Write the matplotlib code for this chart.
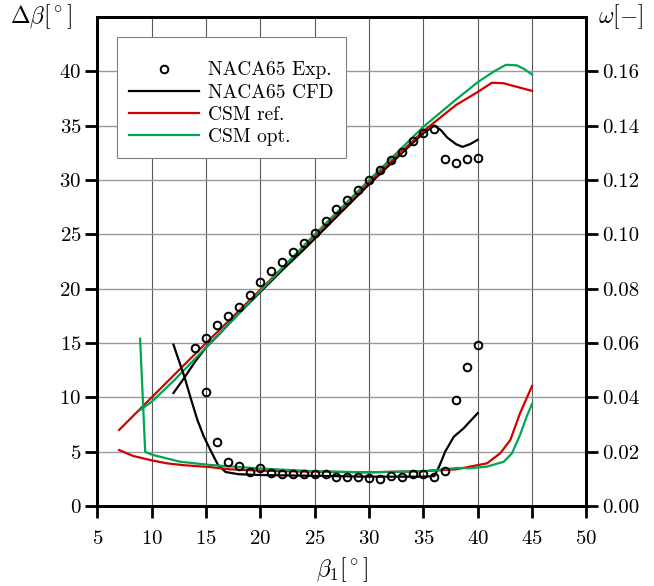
import numpy as np
import matplotlib
matplotlib.use('Agg')
import matplotlib.pyplot as plt
from matplotlib.ticker import FormatStrFormatter

plt.rcParams['font.family'] = 'serif'
plt.rcParams['font.serif'] = ['cmr10']
plt.rcParams['mathtext.fontset'] = 'cm'
plt.rcParams['axes.formatter.use_mathtext'] = True

# ── Datos experimentales NACA65 ───────────────────────────────────────────────
exp_db_beta = [14, 15, 16, 17, 18, 19, 20, 21, 22, 23, 24, 25, 26, 27,
               28, 29, 30, 31, 32, 33, 34, 35, 36, 37, 38, 39, 40]
exp_db = [14.5, 15.5, 16.7, 17.5, 18.3, 19.4, 20.6, 21.6, 22.5, 23.4, 24.2,
          25.1, 26.2, 27.3, 28.2, 29.1, 30.0, 30.9, 31.8, 32.6, 33.6, 34.3,
          34.7, 31.9, 31.6, 31.9, 32.0]

exp_w_beta = [15, 16, 17, 18, 19, 20, 21, 22, 23, 24, 25, 26, 27, 28,
              29, 30, 31, 32, 33, 34, 35, 36, 37, 38, 39, 40]
exp_w = [0.0421, 0.0237, 0.0161, 0.0147, 0.0124, 0.0139, 0.0123, 0.0117,
         0.0118, 0.0119, 0.0119, 0.0119, 0.0108, 0.0108, 0.0108, 0.0104,
         0.0098, 0.0111, 0.0108, 0.0117, 0.0119, 0.0108, 0.0130, 0.0391,
         0.0510, 0.0591]

# ── CFD NACA65 ────────────────────────────────────────────────────────────────
cfd_db_beta = [12, 13, 14, 15, 16, 18, 20, 22, 24, 26, 28, 30, 32, 34, 35,
               36, 36.6, 37.2, 38, 38.6, 39.3, 40]
cfd_db = [10.4, 11.8, 13.3, 14.6, 15.6, 17.7, 19.7, 21.7, 23.6, 25.6, 27.6,
          29.6, 31.5, 33.4, 34.3, 35.0, 34.6, 33.9, 33.3, 33.05, 33.3, 33.7]

cfd_w_beta = [12, 12.5, 13, 13.6, 14.2, 14.8, 15.4, 16.1, 16.8, 18, 20, 25,
              30, 35, 36, 36.5, 37, 37.8, 38.7, 40]
cfd_w = [0.0594, 0.0535, 0.0477, 0.0395, 0.0317, 0.0255, 0.0206, 0.0151,
         0.0125, 0.0117, 0.0114, 0.0111, 0.0108, 0.0108, 0.0110, 0.0150,
         0.0200, 0.0255, 0.0286, 0.0342]

# ── CSM ref. ──────────────────────────────────────────────────────────────────
ref_db_beta = [7, 10, 15, 20, 25, 30, 35, 38, 40, 41.3, 42.4, 43.5, 45]
ref_db = [7.0, 10.0, 15.0, 19.9, 24.9, 29.8, 34.5, 36.9, 38.1, 38.95, 38.9,
          38.6, 38.2]

ref_w_beta = [7, 8.3, 10, 11.4, 13, 15.4, 17.2, 20, 25, 30, 35, 38, 39.3,
              40.85, 42.07, 43.0, 43.9, 45]
ref_w = [0.0206, 0.0184, 0.0168, 0.0157, 0.0150, 0.0143, 0.0135, 0.0130,
         0.0126, 0.0124, 0.0128, 0.0135, 0.0145, 0.0157, 0.0194, 0.0243,
         0.0342, 0.0442]

# ── CSM opt. ──────────────────────────────────────────────────────────────────
opt_db_beta = [8.9, 10, 12, 15, 20, 25, 30, 35, 38, 40, 41.5, 42.6, 43.6,
               44.3, 45]
opt_db = [8.8, 9.6, 11.5, 14.6, 19.8, 25.0, 30.0, 34.9, 37.4, 39.0, 40.0,
          40.6, 40.55, 40.2, 39.7]

opt_w_beta = [8.93, 9.4, 10.1, 12.6, 15.4, 20, 22.4, 25, 29.8, 35, 38.1,
              39.3, 40.85, 42.4, 43.15, 43.9, 44.5, 45]
opt_w = [0.0616, 0.0199, 0.0188, 0.0163, 0.0151, 0.0138, 0.0133, 0.0128,
         0.0124, 0.0128, 0.0140, 0.0139, 0.0145, 0.0163, 0.0194, 0.0262,
         0.0329, 0.0376]

RED = '#D40000'
GREEN = '#00A651'

fig = plt.figure(figsize=(6.54, 5.86), dpi=100)
ax = fig.add_axes([97.4 / 654, 80 / 586, 489 / 654, 489 / 586])
ax2 = ax.twinx()

# Δβ (eje izquierdo)
ax.plot(exp_db_beta, exp_db, 'o', mfc='none', mec='k', ms=5.5, mew=1.4,
        zorder=5)
ax.plot(cfd_db_beta, cfd_db, color='k', lw=1.6, zorder=3)
ax.plot(ref_db_beta, ref_db, color=RED, lw=1.6, zorder=3)
ax.plot(opt_db_beta, opt_db, color=GREEN, lw=1.6, zorder=4)

# ω (eje derecho)
ax2.plot(exp_w_beta, exp_w, 'o', mfc='none', mec='k', ms=5.5, mew=1.4,
         label='NACA65 Exp.', zorder=5)
ax2.plot(cfd_w_beta, cfd_w, color='k', lw=1.6, label='NACA65 CFD')
ax2.plot(ref_w_beta, ref_w, color=RED, lw=1.6, label='CSM ref.')
ax2.plot(opt_w_beta, opt_w, color=GREEN, lw=1.6, label='CSM opt.')

ax.set_xlim(5, 50)
ax.set_ylim(0, 45)
ax2.set_ylim(0, 0.18)
ax.set_xticks(np.arange(5, 51, 5))
ax.set_yticks(np.arange(0, 41, 5))
ax2.set_yticks(np.arange(0, 0.161, 0.02))
ax2.yaxis.set_major_formatter(FormatStrFormatter('%.2f'))

ax.grid(True, axis='x', color='0.35', lw=0.8)
ax.grid(True, axis='y', color='0.6', lw=1.0)
ax.set_axisbelow(True)

for a in (ax, ax2):
    for sp in a.spines.values():
        sp.set_linewidth(2.0)
    a.tick_params(direction='out', length=8.5, width=2.0, labelsize=15,
                  pad=3)
ax.tick_params(axis='x', pad=9)

ax.text(-0.115, 1.0, r'$\Delta\beta[^\circ]$', transform=ax.transAxes,
        fontsize=17, ha='center', va='center')
ax2.text(1.07, 1.0, r'$\omega[-]$', transform=ax.transAxes,
         fontsize=17, ha='center', va='center')
ax.set_xlabel(r'$\beta_1[^\circ]$', fontsize=17, labelpad=5)

# título vacío para dejar más margen arriba, como en la figura original
leg = ax2.legend(loc='upper left', bbox_to_anchor=(0.04, 0.959),
                 fontsize=14, handlelength=3.6, handletextpad=0.5,
                 labelspacing=0.22, borderaxespad=0, fancybox=False,
                 framealpha=1, edgecolor='0.5', borderpad=0.6,
                 title=' ', title_fontsize=7)
leg.get_frame().set_linewidth(0.8)

plt.savefig('out.png', dpi=100)
plt.close()
